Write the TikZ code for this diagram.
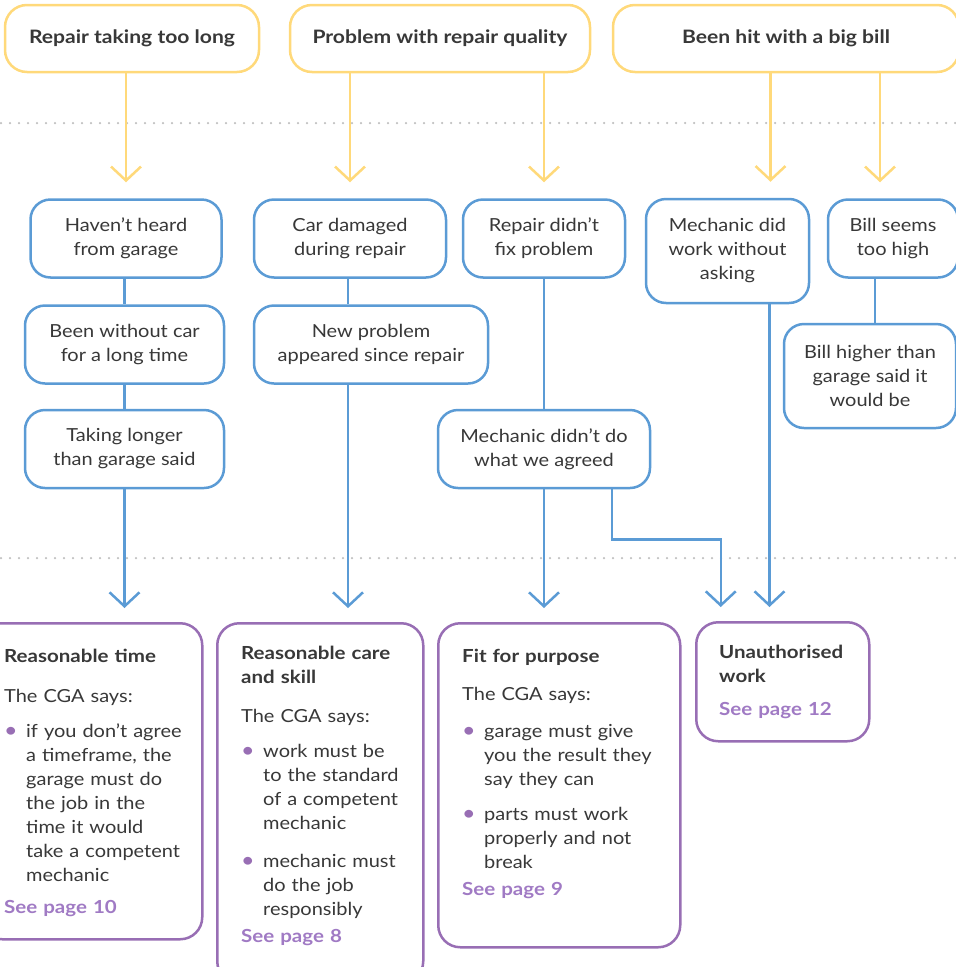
\documentclass[tikz,border=0pt]{standalone}
\usepackage{fontspec}
\setmainfont{Lato}[FakeStretch=1.11, BoldFeatures={FakeStretch=1.14}]
\usepackage{xcolor}
\usepackage{tikz}
\usetikzlibrary{positioning,calc,arrows.meta}
\definecolor{sunyellow}{RGB}{255, 217, 122}
\definecolor{issueblue}{RGB}{91, 155, 213}
\definecolor{rightpurple}{RGB}{152, 110, 180}
\definecolor{pagepurple}{RGB}{160, 122, 196}
\definecolor{textgray}{RGB}{56, 56, 56}
\definecolor{dotgray}{RGB}{192, 192, 192}
\newcommand{\cgabullet}{\noindent\hangindent=22pt\hangafter=1\makebox[22pt][l]{\textcolor{rightpurple}{\fontsize{21}{24}\selectfont •}}}
\newcommand{\seepage}[1]{{\color{pagepurple}\bfseries See page #1}}

\begin{document}
\begin{tikzpicture}[x=1pt, y=-1pt,
    every node/.style={font=\fontsize{18}{24}\selectfont, text=textgray},
    topbox/.style={draw=sunyellow, line width=2.5pt, rounded corners=22pt, fill=white, minimum height=67pt, inner sep=0pt, font=\fontsize{18.5}{24}\selectfont\bfseries},
    issue/.style={draw=issueblue, line width=2.5pt, rounded corners=20pt, fill=white, align=center, minimum height=78pt, inner sep=0pt},
    rightbox/.style={draw=rightpurple, line width=2.5pt, rounded corners=22pt, fill=white, anchor=north west, inner sep=0pt},
    cgatext/.style={anchor=base west, align=left, inner sep=0pt, text width=240pt},
    yarrow/.style={draw=sunyellow, line width=2.5pt, -{Straight Barb[length=14pt, width=30pt]}, shorten >=16pt},
    barrow/.style={draw=issueblue, line width=2.5pt, -{Straight Barb[length=14pt, width=30pt]}, shorten >=14pt},
    bline/.style={draw=issueblue, line width=2.5pt}]
    \useasboundingbox (0,0) rectangle (956,967);
    \clip (0,0) rectangle (956,967);

    % Dotted separators
    \draw[dotgray, line width=2.5pt, line cap=round, dash pattern=on 0pt off 9pt] (1,123) -- (956,123);
    \draw[dotgray, line width=2.5pt, line cap=round, dash pattern=on 0pt off 9pt] (1,558) -- (956,558);

    % Complaints
    \node[topbox, minimum width=254pt] (slow) at (132,38.5) {Repair taking too long};
    \node[topbox, minimum width=300pt] (quality) at (440,38.5) {Problem with repair quality};
    \node[topbox, minimum width=346pt] (bill) at (786,38.5) {Been hit with a big bill};

    % Issues
    \node[issue, minimum width=191pt] (heard) at (126,238.5) {Haven’t heard\\from garage};
    \node[issue, minimum width=199pt] (without) at (124.5,344.5) {Been without car\\for a long time};
    \node[issue, minimum width=199pt] (longer) at (124.5,449) {Taking longer\\than garage said};
    \node[issue, minimum width=192pt] (damaged) at (350,238.5) {Car damaged\\during repair};
    \node[issue, minimum width=234pt] (newprob) at (371,344.5) {New problem\\appeared since repair};
    \node[issue, minimum width=162pt] (notfix) at (544,238.5) {Repair didn’t\\fix problem};
    \node[issue, minimum width=212pt] (agreed) at (544,449) {Mechanic didn’t do\\what we agreed};
    \node[issue, minimum width=163pt, minimum height=104pt] (nowork) at (727.5,251) {Mechanic did\\work without\\asking};
    \node[issue, minimum width=130pt] (seems) at (893,238.5) {Bill seems\\too high};
    \node[issue, minimum width=172pt, minimum height=104pt] (higher) at (870,376) {Bill higher than\\garage said it\\would be};

    % Rights
    \node[rightbox, minimum width=222pt, minimum height=316pt] (time) at (-21,622) {};
    \node[rightbox, minimum width=206pt, minimum height=360pt] (care) at (216,622) {};
    \node[rightbox, minimum width=242pt, minimum height=324pt] (fit) at (437,622) {};
    \node[rightbox, minimum width=173pt, minimum height=119pt] (unauth) at (695,621) {};

    \node[cgatext] (timetext) at ([xshift=25pt, yshift=-40pt]time.north west) {%
        {\bfseries Reasonable time}\par\vspace{16pt}
        The CGA says:\par\vspace{11pt}
        \cgabullet if you don’t agree\newline a timeframe, the\newline garage must do\newline the job in the\newline time it would\newline take a competent\newline mechanic\par\vspace{8pt}
        \seepage{10}};
    \node[cgatext] (caretext) at ([xshift=25pt, yshift=-37pt]care.north west) {%
        {\bfseries Reasonable care\newline and skill}\par\vspace{15pt}
        The CGA says:\par\vspace{11pt}
        \cgabullet work must be\newline to the standard\newline of a competent\newline mechanic\par\vspace{14pt}
        \cgabullet mechanic must\newline do the job\newline responsibly\par\vspace{3pt}
        \seepage{8}};
    \node[cgatext] (fittext) at ([xshift=25pt, yshift=-40pt]fit.north west) {%
        {\bfseries Fit for purpose}\par\vspace{14pt}
        The CGA says:\par\vspace{13pt}
        \cgabullet garage must give\newline you the result they\newline say they can\par\vspace{11pt}
        \cgabullet parts must work\newline properly and not\newline break\par\vspace{3pt}
        \seepage{9}};
    \node[cgatext] (unauthtext) at ([xshift=24pt, yshift=-37pt]unauth.north west) {%
        {\bfseries Unauthorised\newline work}\par\vspace{9pt}
        \seepage{12}};

    % Yellow arrows
    \draw[yarrow] (heard.north |- slow.south) -- (heard.north);
    \draw[yarrow] (damaged.north |- quality.south) -- (damaged.north);
    \draw[yarrow] (notfix.north |- quality.south) -- (notfix.north);
    \draw[yarrow] ([xshift=43pt]nowork.north |- bill.south) -- ([xshift=43pt]nowork.north);
    \draw[yarrow] ([xshift=-13pt]seems.north |- bill.south) -- ([xshift=-13pt]seems.north);

    % Blue links
    \draw[bline] (without.north |- heard.south) -- (without.north);
    \draw[bline] (without.south) -- (longer.north);
    \draw[bline] ([xshift=-2pt]damaged.south) -- ([xshift=-2pt]damaged.south |- newprob.north);
    \draw[bline] (notfix.south) -- (agreed.north);
    \draw[bline] ([xshift=-18pt]seems.south) -- ([xshift=-18pt]seems.south |- higher.north);

    % Blue arrows
    \draw[barrow] (longer.south) -- (longer.south |- time.north);
    \draw[barrow] ([xshift=-2pt]damaged.south |- newprob.south) -- ([xshift=-2pt]damaged.south |- care.north);
    \draw[barrow] (agreed.south) -- (agreed.south |- fit.north);
    \draw[barrow] ([xshift=68pt]agreed.south) -- ++(0,50) -| ([xshift=-62pt]unauth.north);
    \draw[barrow] ([xshift=42pt]nowork.south) -- ([xshift=42pt]nowork.south |- unauth.north);
\end{tikzpicture}
\end{document}
